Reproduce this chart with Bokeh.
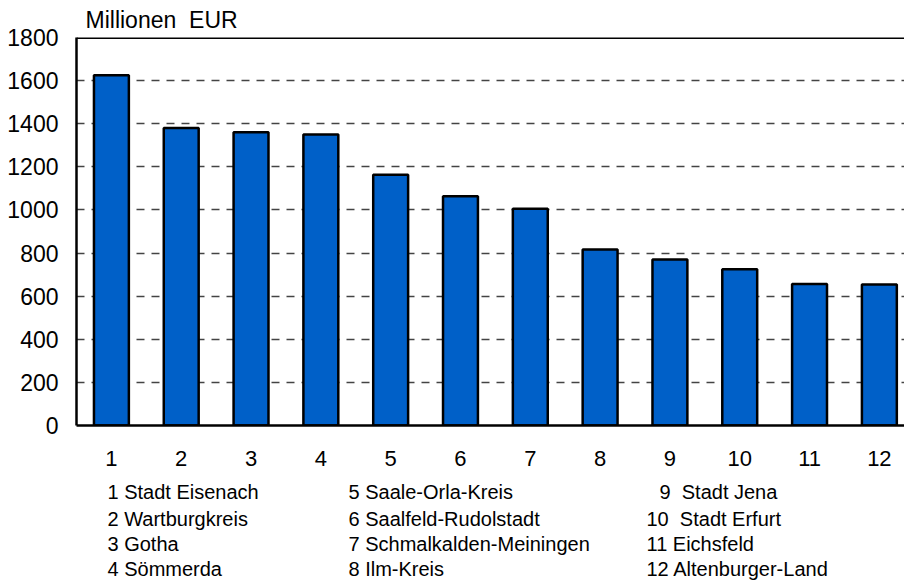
from bokeh.plotting import figure
from bokeh.models import FixedTicker, Span, Range1d
from bokeh.layouts import column
from bokeh.core.properties import value
from bokeh.embed import file_html
from bokeh.resources import INLINE

# ---- data ----
positions = [1, 2, 3, 4, 5, 6, 7, 8, 9, 10, 11, 12]
values = [1625, 1380, 1360, 1350, 1163, 1064, 1005, 816, 770, 725, 657, 654]
legend_labels = [
    "1 Stadt Eisenach", "2 Wartburgkreis", "3 Gotha", "4 Sömmerda",
    "5 Saale-Orla-Kreis", "6 Saalfeld-Rudolstadt", "7 Schmalkalden-Meiningen", "8 Ilm-Kreis",
    "9\u00a0 Stadt Jena", "10\u00a0 Stadt Erfurt", "11 Eichsfeld", "12 Altenburger-Land",
]
y_ticks = [0, 200, 400, 600, 800, 1000, 1200, 1400, 1600, 1800]
unit_label = "Millionen\u00a0 EUR"

FONT = "Liberation Sans"

p = figure(width=904, height=470, output_backend="svg", toolbar_location=None,
           x_range=Range1d(0.5, 12.36), y_range=Range1d(0, 1800),
           min_border_left=76, min_border_right=0, min_border_top=37, min_border_bottom=45)
p.outline_line_color = None
p.background_fill_color = "white"
p.border_fill_color = "white"

# unit label as title
p.title.text = unit_label
p.title.text_font = FONT
p.title.text_font_size = "23px"
p.title.text_font_style = "normal"
p.title.text_color = "black"
p.title.align = "left"
p.title.offset = 9
p.title.standoff = 9

p.vbar(x=positions, top=values, width=0.5, fill_color="#0060C8",
       line_color="black", line_width=2.5)

# grid
p.xgrid.grid_line_color = None
p.ygrid.ticker = FixedTicker(ticks=y_ticks)
p.ygrid.grid_line_color = "#444444"
p.ygrid.grid_line_width = 1.5
p.ygrid.grid_line_dash = "8 7"

# axes
p.yaxis.ticker = FixedTicker(ticks=y_ticks)
p.xaxis.ticker = FixedTicker(ticks=positions)
for ax in (p.xaxis, p.yaxis):
    ax.axis_line_color = "black"
    ax.axis_line_width = 2.5
    ax.major_tick_line_color = None
    ax.minor_tick_line_color = None
    ax.major_tick_out = 0
    ax.major_tick_in = 0
    ax.major_label_text_font = FONT
    ax.major_label_text_color = "black"
p.yaxis.major_label_text_font_size = "23px"
p.yaxis.major_label_standoff = 18
p.xaxis.major_label_text_font_size = "22px"
p.xaxis.major_label_standoff = 25

# top border
p.add_layout(Span(location=1800, dimension="width", line_color="black", line_width=3))

# ---- legend block (pixel-unit coordinate system, frame aligned at x=76) ----
col_x = [107, 348, 646]
row_y = [21, 48, 73, 98]
lx, ly = [], []
for i, lab in enumerate(legend_labels):
    c, r = divmod(i, 4)
    lx.append(col_x[c] + (13 if i == 8 else 0))
    ly.append(row_y[r])

lg = figure(width=904, height=115, output_backend="svg", toolbar_location=None,
            x_range=Range1d(76, 904), y_range=Range1d(115, 0),
            min_border_left=76, min_border_right=0,
            min_border_top=0, min_border_bottom=0)
lg.axis.visible = False
lg.grid.visible = False
lg.outline_line_color = None
lg.text(x=lx, y=ly, text=legend_labels, text_font=value(FONT),
        text_font_size="20px", text_color="black",
        text_baseline="middle", text_align="left")

layout = column(p, lg, spacing=0)
open("out.html", "w").write(file_html(layout, INLINE))
